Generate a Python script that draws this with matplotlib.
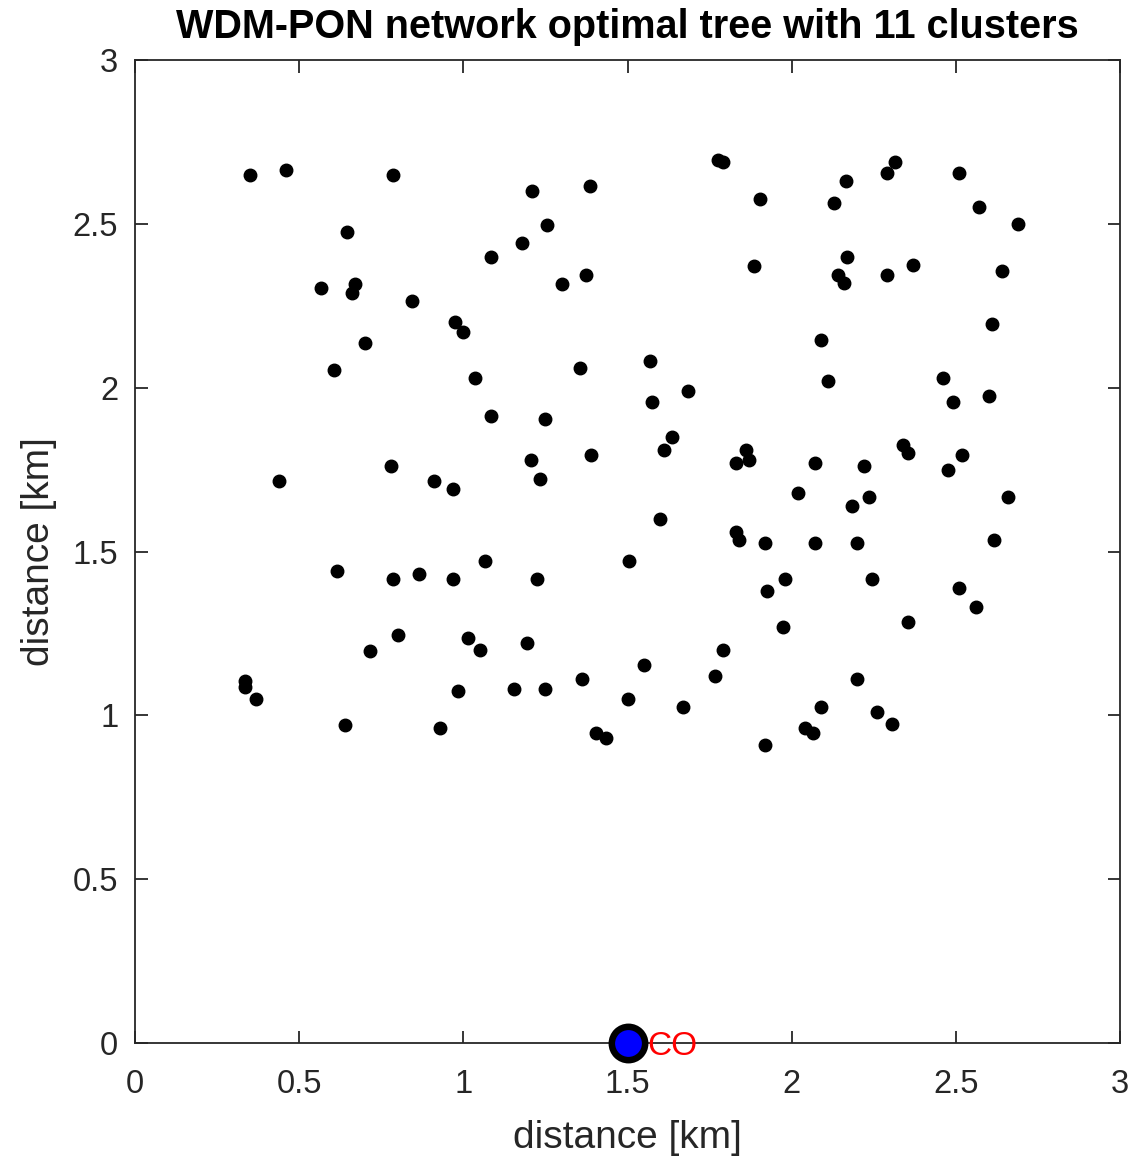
import matplotlib
matplotlib.use("Agg")
import matplotlib.pyplot as plt

plt.rcParams['font.family'] = ['Liberation Sans', 'DejaVu Sans']

# Node coordinates [km]
node_x = [0.35, 0.46, 0.785, 1.21, 1.385, 1.775, 1.79, 1.905, 2.165, 2.13, 2.315, 2.29, 2.51, 2.57, 2.69,
          0.645, 1.085, 1.18, 1.255, 0.565, 0.66, 0.67, 0.845, 1.30, 1.375, 1.885, 2.17, 2.14, 2.16, 2.29, 2.37, 2.64,
          0.975, 1.00, 0.70, 0.605, 1.035, 1.355, 1.57, 1.685, 2.09, 2.11, 2.61, 2.46, 2.49, 2.60,
          1.085, 1.25, 1.575, 1.635, 1.61, 1.39, 1.205, 1.235, 1.86, 1.87, 1.83, 2.07, 2.22, 2.34, 2.355, 2.52, 2.475, 2.66,
          0.44, 0.78, 0.91, 0.97, 2.02, 2.235, 2.185, 1.60, 1.83, 1.84, 1.92, 2.07, 2.20, 2.615,
          1.505, 1.065, 0.615, 0.785, 0.865, 0.97, 1.225, 1.98, 1.925, 2.245, 2.51, 2.56, 2.355, 1.975,
          1.79, 1.55, 1.765, 1.195, 1.015, 1.05, 0.80, 0.715, 0.335, 0.335, 0.37, 0.64, 0.93, 0.985,
          1.155, 1.25, 1.36, 1.50, 1.67, 1.405, 1.435, 2.04, 2.065, 2.09, 2.20, 2.26, 2.305, 1.92]
node_y = [2.65, 2.665, 2.65, 2.60, 2.615, 2.695, 2.69, 2.575, 2.63, 2.565, 2.69, 2.655, 2.655, 2.55, 2.50,
          2.475, 2.40, 2.44, 2.495, 2.305, 2.29, 2.315, 2.265, 2.315, 2.345, 2.37, 2.40, 2.345, 2.32, 2.345, 2.375, 2.355,
          2.20, 2.17, 2.135, 2.055, 2.03, 2.06, 2.08, 1.99, 2.145, 2.02, 2.195, 2.03, 1.955, 1.975,
          1.915, 1.905, 1.955, 1.85, 1.81, 1.795, 1.78, 1.72, 1.81, 1.78, 1.77, 1.77, 1.76, 1.825, 1.80, 1.795, 1.75, 1.665,
          1.715, 1.76, 1.715, 1.69, 1.68, 1.665, 1.64, 1.60, 1.56, 1.535, 1.525, 1.525, 1.525, 1.535,
          1.47, 1.47, 1.44, 1.415, 1.43, 1.415, 1.415, 1.415, 1.38, 1.415, 1.39, 1.33, 1.285, 1.27,
          1.20, 1.155, 1.12, 1.22, 1.235, 1.20, 1.245, 1.195, 1.105, 1.085, 1.05, 0.97, 0.96, 1.075,
          1.08, 1.08, 1.11, 1.05, 1.025, 0.945, 0.93, 0.96, 0.945, 1.025, 1.11, 1.01, 0.975, 0.91]

co_x = [1.5]
co_y = [0.0]
co_label = "CO"

x_ticks = [0, 0.5, 1, 1.5, 2, 2.5, 3]
y_ticks = [0, 0.5, 1, 1.5, 2, 2.5, 3]
tick_labels = ["0", "0.5", "1", "1.5", "2", "2.5", "3"]

title = "WDM-PON network optimal tree with 11 clusters"
xlabel = "distance [km]"
ylabel = "distance [km]"

fig = plt.figure(figsize=(11.33, 11.56), dpi=100)
ax = fig.add_axes([135/1133, 113/1156, (1120-135)/1133, (1043-60)/1156])

ax.plot(node_x, node_y, 'o', color='black', markersize=9, linestyle='none')
ax.plot(co_x, co_y, 'o', markerfacecolor='#0000ff', markeredgecolor='black',
        markersize=24, markeredgewidth=4.7, clip_on=False, zorder=5)
ax.text(co_x[0] + 0.06, co_y[0] - 0.012, co_label, color='red', fontsize=24,
        ha='left', va='center', zorder=6)

ax.set_xlim(0, 3)
ax.set_ylim(0, 3)
ax.set_xticks(x_ticks)
ax.set_yticks(y_ticks)
ax.set_xticklabels(tick_labels)
ax.set_yticklabels(tick_labels)
ax.tick_params(direction='in', length=9, width=1.3, top=True, right=True,
               labelsize=23.5, colors='#262626')
ax.tick_params(axis='x', pad=19)
ax.tick_params(axis='y', pad=12)
for sp in ax.spines.values():
    sp.set_linewidth(1.3)
    sp.set_color('#262626')

ax.set_xlabel(xlabel, fontsize=28, color='#262626', labelpad=14)
ax.set_ylabel(ylabel, fontsize=28, color='#262626', labelpad=11)
ax.set_title(title, fontsize=28.5, fontweight='bold', pad=16)

fig.savefig("out.png", dpi=100)
